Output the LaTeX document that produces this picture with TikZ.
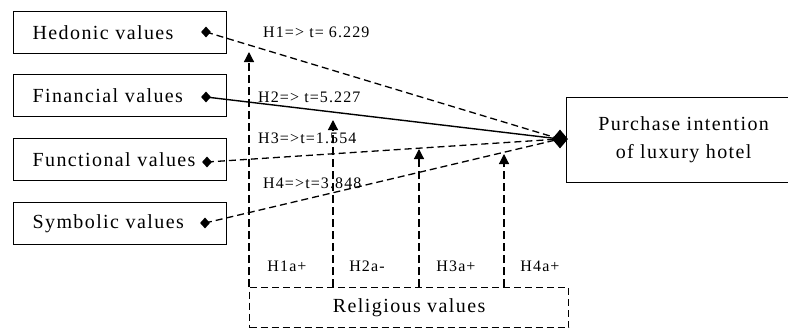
\documentclass[tikz,border=0pt]{standalone}
\usepackage{fontspec}
\usetikzlibrary{arrows.meta,shapes.geometric}
\newfontfamily\mainf[LetterSpace=7]{Liberation Serif}
\begin{document}
\begin{tikzpicture}[x=1pt,y=-1pt,
  box/.style={draw,line width=1.2pt,minimum height=42pt,inner xsep=19pt,text width=175pt,align=left,anchor=north west,font=\mainf\fontsize{20}{24}\selectfont},
  dia/.style={diamond,fill=black,inner sep=0pt,minimum width=10pt,minimum height=11pt},
  rel/.style={line width=1.3pt,dash pattern=on 7pt off 4pt},
  vln/.style={line width=1.2pt,dash pattern=on 8pt off 4pt,-{Triangle[width=10pt,length=10pt]}},
  lbl/.style={font=\mainf\fontsize{16}{18}\selectfont,inner sep=0pt},
]
\useasboundingbox (0,0) rectangle (788,330);
% left boxes
\node[box] (hed) at (13,11) {Hedonic values};
\node[box] (fin) at (13,74) {Financial values};
\node[box] (fun) at (13,138) {Functional values};
\node[box] (sym) at (13,202) {Symbolic values};
% right box
\node[draw,line width=1.2pt,anchor=north west,minimum width=234pt,minimum height=85pt,align=center,
  font=\mainf\fontsize{20}{28}\selectfont] (pi) at (566,97) {Purchase intention\\of luxury hotel};
% religious box
\node[draw,rel,anchor=north west,minimum width=319pt,minimum height=40pt,
  font=\mainf\fontsize{20}{24}\selectfont] (rv) at (249,287) {Religious values};
% diamonds
\node[dia] (dh) at (206,32) {};
\node[dia] (df) at (206,97) {};
\node[dia] (dn) at (207,162) {};
\node[dia] (ds) at (205,223) {};
\node[diamond,fill=black,inner sep=0pt,minimum width=16pt,minimum height=19pt] (cv) at (560,139) {};
% labels
\node[lbl,anchor=west] (l1) at (263,32) {H1=> t= 6.229};
\node[lbl,anchor=west] (l2) at (258,97) {H2=> t=5.227};
\node[lbl,anchor=west] (l3) at (258,138) {H3=>t=1.554};
\node[lbl,anchor=west] (l4) at (263,183) {H4=>t=3.848};
\node[lbl] (a1) at (287,266) {H1a+};
\node[lbl] (a2) at (367,266) {H2a-};
\node[lbl] (a3) at (456,266) {H3a+};
\node[lbl] (a4) at (540,266) {H4a+};
% main connectors
\draw[rel] (dh.center) -- (cv.center);
\draw[line width=1.4pt] (df.center) -- (cv.center);
\draw[rel] (dn.center) -- (cv.center);
\draw[rel] (ds.center) -- (cv.center);
% moderator arrows
\coordinate (t1) at (249,52);
\coordinate (t2) at (333,120);
\coordinate (t3) at (419,149);
\coordinate (t4) at (504,154);
\draw[vln] (rv.north west) -- (t1);
\draw[vln] (rv.north -| t2) -- (t2);
\draw[vln] (rv.north -| t3) -- (t3);
\draw[vln] (rv.north -| t4) -- (t4);
\end{tikzpicture}
\end{document}
